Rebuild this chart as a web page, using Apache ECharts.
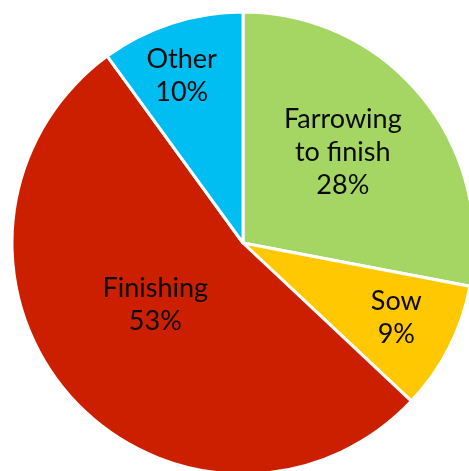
<!DOCTYPE html>
<html>
<head>
<meta charset="utf-8">
<script src="https://cdn.jsdelivr.net/npm/echarts@6/dist/echarts.min.js"></script>
<style>
  html, body { margin: 0; padding: 0; background: #fff; }
  #chart { width: 469px; height: 471px; }
</style>
</head>
<body>
<div id="chart"></div>
<script>
// Share of pigs by production stage
const categories = ['Farrowing\nto finish', 'Sow', 'Finishing', 'Other'];
const shares = [28, 9, 53, 10];

const sliceColors = ['#A5D563', '#FFC800', '#CC1F00', '#00BDF2'];
// Label placement: fraction of the radius along the slice's mid angle, plus a small pixel nudge
const labelRadius = [0.6, 0.74, 0.46, 0.76];
const labelNudge = [[-7, -2], [1, -3], [-8, -8], [-7, 0]];

const CX = 243, CY = 243, R = 231;
const total = shares.reduce((a, b) => a + b, 0);

function labelPos(i) {
  let before = 0;
  for (let k = 0; k < i; k++) before += shares[k];
  const mid = (before + shares[i] / 2) / total * 2 * Math.PI; // clockwise from 12 o'clock
  const r = R * labelRadius[i];
  return {
    x: CX + r * Math.sin(mid) + labelNudge[i][0],
    y: CY - r * Math.cos(mid) + labelNudge[i][1]
  };
}

const chart = echarts.init(document.getElementById('chart'), null, { renderer: 'canvas' });
chart.setOption({
  animation: false,
  series: [{
    type: 'pie',
    center: [CX, CY],
    radius: [0, R],
    startAngle: 90,
    clockwise: true,
    itemStyle: { borderColor: '#ffffff', borderWidth: 3 },
    label: {
      show: true,
      position: 'inside',
      formatter: p => p.name + '\n' + p.value + '%',
      color: '#0a0a0a',
      fontFamily: 'Lato',
      fontSize: 27,
      lineHeight: 33,
      align: 'center',
      verticalAlign: 'middle'
    },
    labelLine: { show: false },
    labelLayout: params => {
      const p = labelPos(params.dataIndex);
      return { x: p.x, y: p.y, align: 'center', verticalAlign: 'middle' };
    },
    emphasis: { disabled: true },
    data: categories.map((c, i) => ({
      name: c,
      value: shares[i],
      itemStyle: { color: sliceColors[i] }
    }))
  }]
});
</script>
</body>
</html>
